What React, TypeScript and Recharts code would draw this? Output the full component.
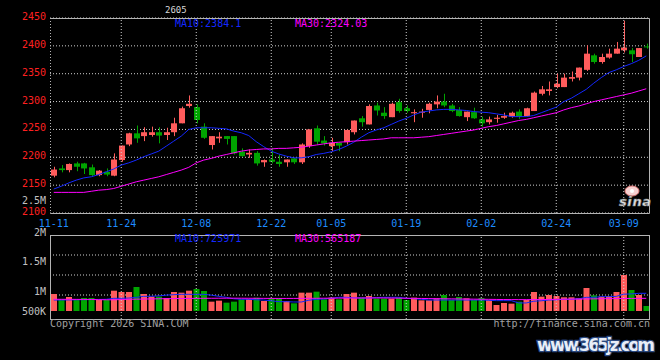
import React from "react";
import {
  ComposedChart,
  Bar,
  Line,
  XAxis,
  YAxis,
  CartesianGrid,
  ReferenceLine,
  Cell,
} from "recharts";

// trading days shown on the chart
const DATES = [
  "11-11", "11-12", "11-13", "11-14", "11-17", "11-18", "11-19", "11-20", "11-21", "11-24",
  "11-25", "11-26", "11-27", "11-28", "12-01", "12-02", "12-03", "12-04", "12-05", "12-08",
  "12-09", "12-10", "12-11", "12-12", "12-15", "12-16", "12-17", "12-18", "12-19", "12-22",
  "12-23", "12-24", "12-25", "12-26", "12-29", "12-30", "12-31", "01-05", "01-06", "01-07",
  "01-08", "01-09", "01-12", "01-13", "01-14", "01-15", "01-16", "01-19", "01-20", "01-21",
  "01-22", "01-23", "01-26", "01-27", "01-28", "01-29", "01-30", "02-02", "02-03", "02-04",
  "02-05", "02-06", "02-09", "02-10", "02-11", "02-12", "02-13", "02-24", "02-25", "02-26",
  "02-27", "03-02", "03-03", "03-04", "03-05", "03-06", "03-09", "03-10", "03-11", "03-12",
];

const OPEN = [
  2167, 2180, 2177, 2189, 2189, 2182, 2168, 2174, 2167, 2195,
  2223, 2243, 2238, 2240, 2245, 2240, 2245, 2261, 2292, 2290,
  2255, 2222, 2234, 2238, 2238, 2210, 2205, 2208, 2191, 2196,
  2192, 2191, 2198, 2191, 2220, 2252, 2230, 2220, 2226, 2227,
  2245, 2270, 2259, 2293, 2280, 2272, 2299, 2288, 2279, 2280,
  2285, 2295, 2300, 2293, 2285, 2272, 2281, 2268, 2263, 2269,
  2271, 2273, 2282, 2274, 2283, 2314, 2319, 2326, 2326, 2341,
  2343, 2357, 2383, 2371, 2379, 2386, 2392, 2392, 2380, 2399,
];
const HIGH = [
  2183, 2186, 2189, 2192, 2190, 2187, 2177, 2180, 2207, 2221,
  2244, 2257, 2254, 2255, 2254, 2253, 2271, 2291, 2311, 2295,
  2261, 2238, 2245, 2238, 2238, 2216, 2214, 2211, 2196, 2217,
  2205, 2196, 2199, 2225, 2250, 2257, 2238, 2235, 2226, 2250,
  2266, 2274, 2295, 2298, 2290, 2298, 2305, 2293, 2286, 2287,
  2298, 2311, 2314, 2296, 2290, 2282, 2289, 2273, 2273, 2276,
  2280, 2282, 2286, 2289, 2318, 2328, 2336, 2350, 2350, 2354,
  2361, 2401, 2386, 2386, 2395, 2407, 2445, 2396, 2396, 2404,
];
const LOW = [
  2164, 2173, 2173, 2175, 2170, 2166, 2166, 2166, 2166, 2192,
  2220, 2226, 2229, 2237, 2225, 2231, 2238, 2261, 2289, 2261,
  2233, 2214, 2226, 2223, 2205, 2201, 2199, 2185, 2183, 2189,
  2183, 2183, 2188, 2188, 2217, 2223, 2221, 2211, 2211, 2223,
  2241, 2255, 2259, 2275, 2269, 2272, 2280, 2280, 2263, 2271,
  2279, 2288, 2290, 2281, 2273, 2265, 2269, 2255, 2259, 2262,
  2269, 2271, 2269, 2274, 2283, 2311, 2311, 2324, 2326, 2336,
  2338, 2355, 2368, 2368, 2377, 2386, 2388, 2371, 2380, 2395,
];
const CLOSE = [
  2178, 2177, 2188, 2183, 2180, 2168, 2176, 2169, 2196, 2221,
  2243, 2234, 2245, 2245, 2239, 2245, 2261, 2288, 2296, 2267,
  2235, 2238, 2237, 2233, 2207, 2202, 2208, 2189, 2195, 2192,
  2188, 2196, 2191, 2223, 2250, 2228, 2225, 2226, 2221, 2249,
  2266, 2263, 2292, 2284, 2274, 2296, 2283, 2283, 2281, 2282,
  2296, 2300, 2293, 2283, 2274, 2282, 2270, 2261, 2268, 2271,
  2274, 2280, 2273, 2288, 2316, 2322, 2322, 2332, 2343, 2344,
  2361, 2386, 2371, 2380, 2386, 2395, 2397, 2385, 2396, 2398,
];

const PRICE_MA10 = [
  2143, 2148, 2154, 2159, 2163, 2165, 2169, 2174, 2179, 2186,
  2190, 2195, 2201, 2206, 2211, 2220, 2229, 2238, 2250, 2253,
  2253, 2253, 2252, 2251, 2247, 2244, 2239, 2228, 2219, 2211,
  2206, 2202, 2199, 2199, 2201, 2205, 2207, 2210, 2214, 2220,
  2227, 2236, 2244, 2249, 2253, 2259, 2265, 2270, 2276, 2281,
  2283, 2285, 2286, 2286, 2285, 2284, 2282, 2281, 2280, 2278,
  2276, 2273, 2273, 2273, 2275, 2280, 2285, 2290, 2300, 2306,
  2314, 2322, 2333, 2343, 2352, 2357, 2363, 2368, 2374, 2382,
];
const PRICE_MA30 = [
  2137, 2137, 2137, 2137, 2137, 2139, 2141, 2142, 2144, 2148,
  2152, 2156, 2159, 2162, 2165, 2169, 2173, 2177, 2182, 2190,
  2195, 2198, 2202, 2205, 2208, 2211, 2213, 2214, 2215, 2215,
  2216, 2216, 2217, 2218, 2220, 2222, 2224, 2226, 2227, 2228,
  2229, 2230, 2231, 2232, 2233, 2235, 2235, 2235, 2235, 2236,
  2237, 2239, 2241, 2243, 2245, 2247, 2249, 2252, 2255, 2257,
  2260, 2263, 2266, 2268, 2271, 2274, 2277, 2280, 2285, 2289,
  2292, 2296, 2300, 2303, 2306, 2309, 2312, 2315, 2319, 2323,
];

const VOLUME = [
  697000, 480000, 574000, 480000, 533000, 533000, 451000, 451000, 833000, 779000,
  779000, 984000, 697000, 588000, 588000, 533000, 779000, 752000, 833000, 902000,
  820000, 383000, 424000, 342000, 383000, 480000, 492000, 547000, 410000, 520000,
  520000, 410000, 315000, 752000, 752000, 793000, 480000, 547000, 480000, 697000,
  752000, 547000, 615000, 506000, 506000, 506000, 547000, 451000, 547000, 437000,
  437000, 520000, 656000, 451000, 574000, 520000, 451000, 533000, 451000, 246000,
  328000, 301000, 383000, 451000, 779000, 588000, 656000, 615000, 561000, 561000,
  520000, 943000, 642000, 588000, 615000, 779000, 1476000, 861000, 656000, 205000,
];
const VOL_MA10 = [
  451000, 451000, 455000, 460000, 465000, 470000, 475000, 480000, 520000, 520000,
  530000, 560000, 602000, 602000, 620000, 650000, 670000, 684000, 684000, 684000,
  684000, 650000, 602000, 560000, 500000, 480000, 480000, 460000, 451000, 420000,
  383000, 383000, 370000, 369000, 440000, 480000, 492000, 520000, 561000, 561000,
  540000, 533000, 533000, 550000, 561000, 561000, 561000, 520000, 506000, 480000,
  451000, 451000, 451000, 451000, 451000, 451000, 451000, 451000, 440000, 424000,
  424000, 424000, 330000, 330000, 400000, 420000, 451000, 460000, 480000, 480000,
  500000, 561000, 561000, 588000, 588000, 600000, 690000, 700000, 725000, 726000,
];
const VOL_MA30 = [
  480000, 480000, 478000, 476000, 474000, 472000, 465000, 460000, 460000, 470000,
  480000, 485000, 490000, 495000, 500000, 505000, 510000, 512000, 515000, 518000,
  520000, 522000, 524000, 525000, 525000, 524000, 522000, 520000, 518000, 516000,
  515000, 515000, 516000, 518000, 520000, 522000, 524000, 526000, 528000, 530000,
  532000, 534000, 535000, 535000, 533000, 530000, 526000, 522000, 518000, 514000,
  510000, 506000, 502000, 498000, 494000, 490000, 486000, 482000, 478000, 474000,
  470000, 468000, 466000, 466000, 468000, 470000, 474000, 478000, 482000, 486000,
  490000, 494000, 498000, 502000, 506000, 510000, 514000, 516000, 518000, 520000,
];

const PRICE_TICKS = [2100, 2150, 2200, 2250, 2300, 2350, 2400, 2450];
const DATE_TICKS = ["11-11", "11-24", "12-08", "12-22", "01-05", "01-19", "02-02", "02-24", "03-09"];
const VOL_TICKS = [500000, 1000000, 1500000, 2000000, 2500000];
const VOL_TICK_LABELS = ["500K", "1M", "1.5M", "2M", "2.5M"];

const SYMBOL = "2605";
const PRICE_MA10_TEXT = "MA10:2384.1";
const PRICE_MA30_TEXT = "MA30:2324.03";
const VOL_MA10_TEXT = "MA10:725971";
const VOL_MA30_TEXT = "MA30:565187";

const MONO = '"DejaVu Sans Mono", monospace';
const UP = "#ff5c5c";
const DOWN = "#00a400";
const MA10_COLOR = "#1428ff";
const MA30_COLOR = "#ff00ff";
const GRID = "#d0d0d0";
const FRAME = "#b4b4b4";

// sina prints the volume labels on its own rows, not on the bar scale
const VOL_LABEL_ROWS = [116, 96, 66, 37.5, 5];

const priceData = DATES.map((date, i) => ({
  date,
  open: OPEN[i],
  high: HIGH[i],
  low: LOW[i],
  close: CLOSE[i],
  range: [LOW[i], HIGH[i]],
  ma10: PRICE_MA10[i],
  ma30: PRICE_MA30[i],
}));

const volumeData = DATES.map((date, i) => ({
  date,
  volume: VOLUME[i],
  up: CLOSE[i] >= OPEN[i],
  ma10: VOL_MA10[i],
  ma30: VOL_MA30[i],
}));

// wick + body, body placed using the px/unit of the low-high bar recharts gives us
const Candle = (props: any) => {
  const { x, y, width, height, payload } = props;
  const { open, close, high, low } = payload;
  const color = close >= open ? UP : DOWN;
  const perUnit = height / (high - low || 1);
  const yOf = (v: number) => y + (high - v) * perUnit;
  const cx = Math.round(x + width / 2) + 0.5;
  const top = yOf(Math.max(open, close));
  const bottom = yOf(Math.min(open, close));
  return (
    <g>
      <line x1={cx} x2={cx} y1={y} y2={y + height} stroke={color} />
      <rect
        x={Math.round(x)}
        y={top}
        width={width}
        height={Math.max(1, bottom - top)}
        fill={color}
      />
    </g>
  );
};

const PriceTick = (props: any) => {
  const { y, payload } = props;
  return (
    <text
      x={46}
      y={y - 1.5}
      textAnchor='end'
      dominantBaseline='central'
      fill='#ff2020'
      fontSize={10}
      fontFamily={MONO}
    >
      {payload.value}
    </text>
  );
};

const DateTick = (props: any) => {
  const { x, y, payload } = props;
  if (!DATE_TICKS.includes(payload.value)) return <g />;
  return (
    <text
      x={x}
      y={y + 10}
      textAnchor='middle'
      dominantBaseline='central'
      fill='#1e8cff'
      fontSize={10}
      fontFamily={MONO}
    >
      {payload.value}
    </text>
  );
};

const VolTick = (props: any) => {
  const { payload } = props;
  const i = VOL_TICKS.indexOf(payload.value);
  return (
    <text
      x={46}
      y={VOL_LABEL_ROWS[i]}
      textAnchor='end'
      dominantBaseline='central'
      fill='#c0c0c0'
      fontSize={10}
      fontFamily={MONO}
    >
      {VOL_TICK_LABELS[i]}
    </text>
  );
};

const txt = {
  fontSize: 10,
  fontFamily: MONO,
  dominantBaseline: "central" as const,
};

export default function App() {
  return (
    <div
      style={{
        position: "absolute",
        left: 0,
        top: 0,
        width: 660,
        height: 360,
        background: "#000",
        overflow: "hidden",
      }}
    >
      <div style={{ position: "absolute", left: 0, top: 0 }}>
        <ComposedChart
          width={660}
          height={230}
          data={priceData}
          margin={{ top: 18, right: 10, bottom: 0, left: 0 }}
        >
          <CartesianGrid vertical={false} stroke={GRID} strokeDasharray='1 2' />
          <XAxis
            dataKey='date'
            interval={0}
            tick={DateTick}
            tickLine={false}
            axisLine={false}
            tickSize={0}
            tickMargin={0}
            height={17}
          />
          <YAxis
            domain={[2100, 2450]}
            ticks={PRICE_TICKS}
            interval={0}
            allowDataOverflow
            width={50}
            tickLine={false}
            axisLine={false}
            tickSize={0}
            tick={PriceTick}
          />
          {DATE_TICKS.slice(1).map((d) => (
            <ReferenceLine key={d} x={d} stroke={GRID} strokeDasharray='1 2' />
          ))}
          <Bar
            dataKey='range'
            barSize={6}
            shape={Candle}
            isAnimationActive={false}
          />
          <Line
            dataKey='ma10'
            type='linear'
            stroke={MA10_COLOR}
            strokeWidth={1}
            dot={false}
            isAnimationActive={false}
          />
          <Line
            dataKey='ma30'
            type='linear'
            stroke={MA30_COLOR}
            strokeWidth={1}
            dot={false}
            isAnimationActive={false}
          />
        </ComposedChart>
      </div>

      <div style={{ position: "absolute", left: 0, top: 195 }}>
        <ComposedChart
          width={660}
          height={165}
          data={volumeData}
          margin={{ top: 40, right: 10, bottom: 41, left: 0 }}
        >
          <CartesianGrid
            vertical={false}
            horizontalPoints={[60, 80, 100]}
            stroke={GRID}
            strokeDasharray='1 2'
          />
          <XAxis dataKey='date' hide />
          <YAxis
            domain={[-328000, 3116000]}
            ticks={VOL_TICKS}
            interval={0}
            allowDataOverflow
            width={50}
            tickLine={false}
            axisLine={false}
            tickSize={0}
            tick={VolTick}
          />
          {DATE_TICKS.slice(1).map((d) => (
            <ReferenceLine key={d} x={d} stroke={GRID} strokeDasharray='1 2' />
          ))}
          <Bar dataKey='volume' barSize={6} isAnimationActive={false}>
            {volumeData.map((row, index) => (
              <Cell key={`vol-${index}`} fill={row.up ? UP : DOWN} />
            ))}
          </Bar>
          <Line
            dataKey='ma10'
            type='linear'
            stroke={MA10_COLOR}
            strokeWidth={1}
            dot={false}
            isAnimationActive={false}
          />
          <Line
            dataKey='ma30'
            type='linear'
            stroke={MA30_COLOR}
            strokeWidth={1}
            dot={false}
            isAnimationActive={false}
          />
        </ComposedChart>
      </div>

      <svg
        width={660}
        height={360}
        style={{ position: "absolute", left: 0, top: 0, pointerEvents: "none" }}
      >
        {/* panel frames, left edge of the price panel is dotted */}
        <path d='M50.5 18.5 H649.5 V213.5 H50.5' fill='none' stroke={FRAME} />
        <line x1={50.5} y1={18} x2={50.5} y2={213} stroke={FRAME} strokeDasharray='1 2' />
        <rect x={50.5} y={235.5} width={599} height={84} fill='none' stroke={FRAME} />

        <text x={165} y={10} fill='#d8d8d8' {...txt} fontSize={9}>
          {SYMBOL}
        </text>
        <text x={175} y={23.5} fill={MA10_COLOR} {...txt}>
          {PRICE_MA10_TEXT}
        </text>
        <text x={295} y={23.5} fill={MA30_COLOR} {...txt}>
          {PRICE_MA30_TEXT}
        </text>
        <text x={175} y={238.5} fill={MA10_COLOR} {...txt}>
          {VOL_MA10_TEXT}
        </text>
        <text x={295} y={238.5} fill={MA30_COLOR} {...txt}>
          {VOL_MA30_TEXT}
        </text>
        <text x={50} y={323} fill='#a0a0a0' {...txt}>
          Copyright 2026 SINA.COM
        </text>
        <text x={650} y={323} fill='#a0a0a0' textAnchor='end' {...txt}>
          http://finance.sina.com.cn
        </text>

        {/* sina logo */}
        <ellipse cx={632} cy={191} rx={7} ry={5} fill='#f6d0d0' stroke='#e07878' />
        <circle cx={632} cy={191} r={2} fill='#ffffff' />
        <text
          x={619}
          y={206}
          fontSize={13}
          fontStyle='italic'
          fontWeight='bold'
          fontFamily='"DejaVu Sans", sans-serif'
          fill='#e4e4e4'
          stroke='#808080'
          strokeWidth={0.6}
          textLength={32}
        >
          sina
        </text>

        {/* watermark */}
        <text
          x={537}
          y={351}
          fontSize={17}
          fontWeight='bold'
          fontFamily='"DejaVu Sans", sans-serif'
          fill='#e8eef8'
          stroke='#2c4a80'
          strokeWidth={2.5}
          paintOrder='stroke'
          textLength={118}
        >
          www.365jz.com
        </text>
      </svg>
    </div>
  );
}
